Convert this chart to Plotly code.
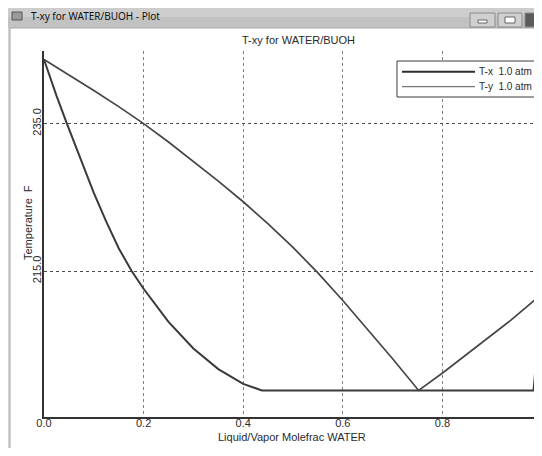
import plotly.graph_objects as go

# ---- data ----
liq_x = [0.0, 0.025, 0.046, 0.075, 0.10, 0.125, 0.15, 0.176, 0.20, 0.25, 0.30, 0.35, 0.40, 0.4375, 0.983, 1.0]
liq_T = [243.7, 238.8, 235.0, 229.8, 225.6, 221.7, 218.1, 215.0, 212.6, 208.1, 204.5, 201.7, 199.7, 198.8, 198.8, 211.9]
vap_x = [0.0, 0.05, 0.10, 0.15, 0.20, 0.25, 0.30, 0.35, 0.40, 0.45, 0.50, 0.55, 0.60, 0.65, 0.70, 0.7523, 0.803, 0.937, 1.0]
vap_T = [243.7, 241.65, 239.5, 237.3, 235.0, 232.5, 229.9, 227.2, 224.4, 221.4, 218.2, 214.75, 211.0, 207.1, 203.1, 198.8, 201.3, 208.3, 211.9]

x_ticks = [0.0, 0.2, 0.4, 0.6, 0.8, 1.0]
x_ticklabels = ["0.0", "0.2", "0.4", "0.6", "0.8", "1.0"]
y_ticks = [215, 235]
y_ticklabels = ["215.0", "235.0"]

# page body has an 8px margin: the figure is drawn offset by (8, 8) in the window
OX, OY = 8, 8
W, H = 534, 440
ML, MR, MT, MB = 36, 0, 43, 31
PW, PH = W - ML - MR, H - MT - MB


def px(x):  # window (reference) pixel x -> paper
    return (x - OX - ML) / PW


def py(y):  # window (reference) pixel y -> paper
    return (H - MB - (y - OY)) / PH


FONT = "Liberation Sans, Arial, sans-serif"
TXT = "#2a2a2a"

fig = go.Figure()
fig.add_trace(go.Scatter(x=liq_x, y=liq_T, mode="lines", name="T-x  1.0 atm",
                         line=dict(color="#3a3a3a", width=2), showlegend=False))
fig.add_trace(go.Scatter(x=vap_x, y=vap_T, mode="lines", name="T-y  1.0 atm",
                         line=dict(color="#454545", width=1.7), showlegend=False))

shapes = []


def rect(x0, x1, y0, y1, fill, line=None, layer="below"):
    shapes.append(dict(type="rect", xref="paper", yref="paper", x0=px(x0), x1=px(x1), y0=py(y0), y1=py(y1),
                       fillcolor=fill, line=line or dict(width=0), layer=layer))


# window chrome
rect(-20, W + 30, -20, H + 60, "#d4d4d4")
rect(-20, W + 30, 4, 6, "#7a7a7a")
rect(-20, W + 30, 6, 17, "#cdcdcd")
rect(-20, W + 30, 17, 28, "#c2c2c2")
rect(10, W + 30, 28, 451, "white", dict(color="#a8a8a8", width=1))
# icon
rect(12, 22, 12, 20, "#9a9a9a", dict(color="#555555", width=1))
# buttons
for x0, x1, fc in [(470, 495, "#d0d0d0"), (498, 522, "#d0d0d0"), (525, 560, "#5c5c5c")]:
    rect(x0, x1, 13, 27, fc, dict(color="#8a8a8a", width=1))
rect(478, 487, 20, 23, "#ffffff", dict(color="#666", width=1))
rect(505, 515, 17, 23, "#ffffff", dict(color="#666", width=1))

# legend box
rect(397, 560, 61, 97, "white", dict(color="#3a3a3a", width=1), layer="above")
shapes.append(dict(type="line", xref="paper", yref="paper", x0=px(402), x1=px(475), y0=py(71.7), y1=py(71.7),
                   line=dict(color="#2e2e2e", width=2), layer="above"))
shapes.append(dict(type="line", xref="paper", yref="paper", x0=px(402), x1=px(475), y0=py(86.7), y1=py(86.7),
                   line=dict(color="#555555", width=1), layer="above"))

annotations = [
    dict(text="T-xy for WATER/BUOH - Plot", xref="paper", yref="paper", x=px(29), y=py(16),
         xanchor="left", yanchor="middle", showarrow=False,
         font=dict(family="Noto Sans, DejaVu Sans, sans-serif", size=10, color="#111111")),
    dict(text="T-xy for WATER/BUOH", xref="paper", yref="paper", x=px(298), y=py(40),
         xanchor="center", yanchor="middle", showarrow=False, font=dict(family=FONT, size=11, color=TXT)),
    dict(text="Liquid/Vapor Molefrac WATER", xref="paper", yref="paper", x=px(292), y=py(437),
         xanchor="center", yanchor="middle", showarrow=False, font=dict(family=FONT, size=11, color=TXT)),
    dict(text="Temperature  F", xref="paper", yref="paper", x=px(28), y=py(223), textangle=-90,
         xanchor="center", yanchor="middle", showarrow=False, font=dict(family=FONT, size=11, color=TXT)),
    dict(text="T-x  1.0 atm", xref="paper", yref="paper", x=px(477), y=py(71.7),
         xanchor="left", yanchor="middle", showarrow=False, font=dict(family=FONT, size=10, color=TXT)),
    dict(text="T-y  1.0 atm", xref="paper", yref="paper", x=px(477), y=py(86.7),
         xanchor="left", yanchor="middle", showarrow=False, font=dict(family=FONT, size=10, color=TXT)),
]

fig.update_layout(
    width=W, height=H,
    margin=dict(l=ML, r=MR, t=MT, b=MB, pad=0),
    paper_bgcolor="#d4d4d4",
    plot_bgcolor="white",
    shapes=shapes,
    annotations=annotations,
    showlegend=False,
    font=dict(family=FONT, size=11, color=TXT),
)
fig.update_xaxes(
    range=[0, 1.0], tickvals=x_ticks, ticktext=x_ticklabels, ticks="", ticklabelstandoff=-5,
    showgrid=True, gridcolor="#808080", griddash="dot", gridwidth=1,
    showline=True, linecolor="#333333", linewidth=1.5, zeroline=False,
    tickfont=dict(family=FONT, size=11, color=TXT),
)
fig.update_yaxes(
    range=[195.2, 244.85], tickvals=y_ticks, ticktext=y_ticklabels, ticks="", tickangle=-90,
    ticklabelstandoff=-3,
    showgrid=True, gridcolor="#4a4a4a", griddash="dot", gridwidth=1,
    showline=True, linecolor="#333333", linewidth=1.5, zeroline=False,
    tickfont=dict(family=FONT, size=11, color=TXT),
)

fig.write_html("out.html")
